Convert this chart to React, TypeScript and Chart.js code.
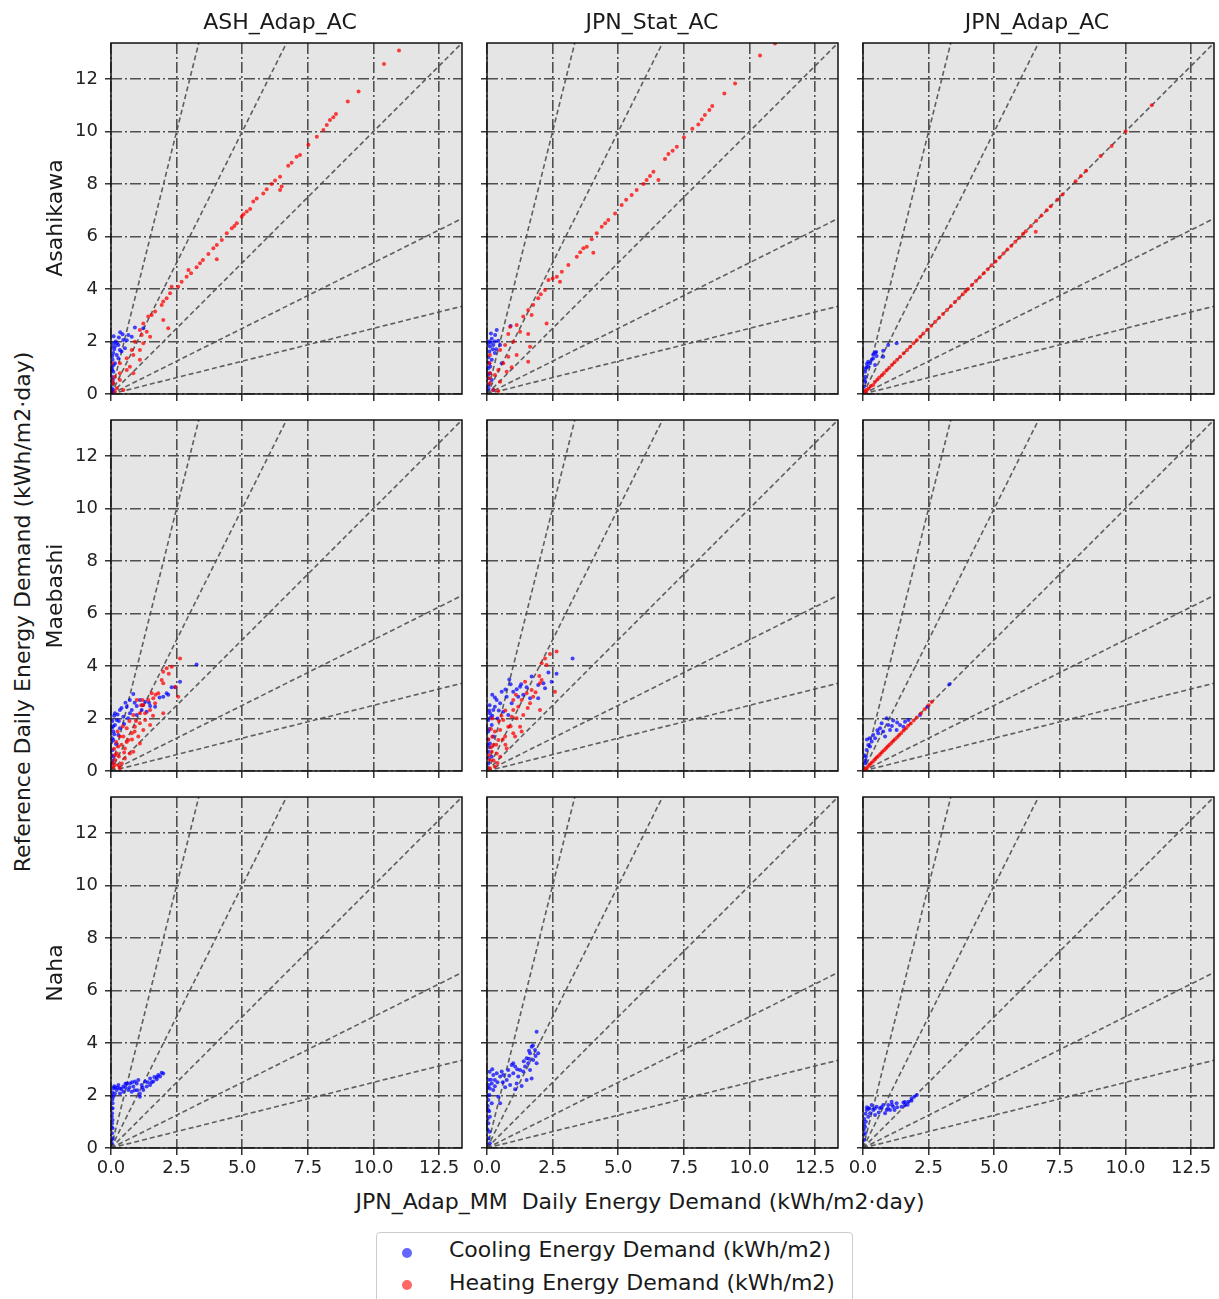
import React, { useEffect, useRef } from 'react';
import Chart from 'chart.js/auto';

type Pt = [number, number];

const columnTitles = ['ASH_Adap_AC', 'JPN_Stat_AC', 'JPN_Adap_AC'];
const rowLabels = ['Asahikawa', 'Maebashi', 'Naha'];
const seriesNames = ['Cooling Energy Demand (kWh/m2)', 'Heating Energy Demand (kWh/m2)'];
const xAxisTitle = 'JPN_Adap_MM  Daily Energy Demand (kWh/m2·day)';
const yAxisTitle = 'Reference Daily Energy Demand (kWh/m2·day)';
const xTickValues = [0, 2.5, 5, 7.5, 10, 12.5];
const yTickValues = [0, 2, 4, 6, 8, 10, 12];
const axisMax = 13.37;
const ratioSlopes = [4, 2, 1, 0.5, 0.25];
const ratioLineEndX = 14;

// ---------- Asahikawa ----------
const asahikawaAshCool: Pt[] = [
  [0.44,2.28],[0.91,2.53],[1.23,2.5],[0.79,2.18],[0.47,2.06],[0.28,1.87],[0.15,1.81],[0.34,1.68],[0.09,1.56],[0.22,1.49],
  [0.06,1.3],[0.15,1.17],[0.03,1.04],[0.09,0.85],[0.03,0.66],[0.06,0.41],[0.03,0.22],[0.22,1.93],[0.53,1.74],[0.66,2.25],
  [0.4,1.62],[0.09,1.93],[0.28,1.36],[0.09,0.15],[0.12,1.7],[0.05,1.45],[0.18,2.0],[0.3,2.15],[0.04,0.95],[0.07,0.55],
  [0.02,1.8],[0.1,2.2],[0.35,2.35],[0.6,2.05],[0.02,0.9],[0.1,1.1],[0.05,0.05],
];
const asahikawaAshHeat: Pt[] = [
  [10.97,13.08],[10.4,12.57],[9.43,11.52],[9.02,11.14],[8.57,10.67],[8.47,10.54],[8.34,10.44],[8.22,10.25],[8.09,10.06],[7.84,9.8],
  [7.52,9.49],[7.2,9.1],[7.07,9.04],[6.88,8.81],[6.75,8.69],[6.44,8.28],[6.25,8.13],[6.12,8.0],[5.93,7.8],[5.8,7.64],
  [6.5,7.9],[6.44,7.77],[5.55,7.45],[5.42,7.33],[5.17,6.95],[4.98,6.75],[4.79,6.5],[4.6,6.31],[4.41,6.12],[4.22,5.87],
  [4.03,5.68],[3.9,5.55],[3.71,5.33],[4.03,5.13],[3.39,4.98],[3.26,4.83],[2.95,4.72],[2.88,4.47],[2.69,4.28],[2.56,4.09],
  [2.31,4.09],[2.25,3.84],[2.12,3.65],[1.99,3.52],[1.93,3.39],[1.68,3.14],[1.55,3.01],[1.42,2.95],[1.99,2.82],[1.23,2.69],
  [1.1,2.44],[1.36,2.37],[1.17,2.25],[1.49,2.18],[0.91,1.99],[1.23,1.93],[0.79,1.68],[1.1,1.68],[2.18,2.5],[0.85,1.49],
  [0.6,1.36],[1.1,1.3],[0.34,1.17],[0.72,1.04],[0.6,0.91],[0.34,0.79],[0.85,0.79],[0.15,0.66],[0.34,0.53],[0.09,0.41],
  [0.22,0.22],[0.15,0.09],[0.47,0.15],[0.03,0.53],[0.03,1.17],[5.3,7.05],[5.05,6.85],[4.7,6.4],[3.5,5.1],[3.05,4.6],
];
const asahikawaStatCool: Pt[] = [
  [0.37,2.44],[0.31,2.25],[0.18,2.1],[0.43,2.03],[0.24,1.87],[0.11,1.81],[0.5,1.87],[0.09,1.62],[0.3,1.56],[0.18,1.3],
  [0.09,1.17],[0.05,0.98],[0.11,0.79],[0.18,0.53],[0.05,0.34],[0.24,0.15],[0.56,1.17],[0.9,2.59],[0.05,1.4],[0.14,1.95],
  [0.04,0.6],[0.08,2.0],[0.22,1.7],[0.12,1.05],[0.06,0.2],[0.02,1.9],[0.02,1.2],[0.15,2.3],[0.35,1.7],[0.05,0.75],
  [0.3,2.0],
];
const asahikawaStatHeat: Pt[] = [
  [10.97,13.35],[10.4,12.89],[9.45,11.83],[9.04,11.45],[8.58,10.97],[8.47,10.82],[8.3,10.63],[8.18,10.46],[8.05,10.27],[7.82,10.1],
  [7.5,9.78],[7.23,9.42],[7.07,9.27],[6.91,9.14],[6.78,8.95],[6.34,8.47],[6.21,8.3],[6.53,8.15],[6.08,8.15],[5.96,8.0],
  [5.7,7.77],[5.51,7.58],[5.13,7.2],[4.88,6.88],[4.62,6.63],[4.37,6.37],[4.18,6.12],[3.99,5.89],[3.8,5.61],[3.67,5.55],
  [4.05,5.38],[3.42,5.23],[3.1,4.91],[2.85,4.66],[2.66,4.47],[2.78,4.28],[2.34,4.34],[2.21,3.96],[1.95,3.65],[1.76,3.39],
  [1.57,3.2],[1.38,2.95],[1.7,3.01],[2.27,2.69],[1.13,2.63],[0.88,2.56],[1.26,2.37],[1.57,2.29],[0.81,2.29],[1.0,1.99],
  [0.69,1.87],[1.64,1.8],[0.5,1.68],[1.13,1.49],[0.81,1.42],[1.57,1.23],[0.62,1.17],[0.94,1.02],[0.43,0.91],[0.75,0.85],
  [0.3,0.72],[0.11,0.79],[0.5,0.47],[0.11,0.41],[0.24,0.15],[0.43,0.11],[0.09,1.17],[0.11,1.49],[0.09,0.6],[5.3,7.4],
  [4.5,6.5],[3.55,5.4],[2.5,4.4],[2.05,3.8],
];
const asahikawaJpnCool: Pt[] = [
  [1.28,1.93],[0.96,1.87],[0.77,1.65],[0.77,1.42],[0.46,1.57],[0.39,1.36],[0.52,1.45],[0.27,1.17],[0.2,1.23],[0.46,1.1],
  [0.13,1.02],[0.08,0.85],[0.09,0.66],[0.08,0.47],[0.04,0.28],[0.33,1.3],[0.2,1.04],[0.39,1.5],[0.5,1.6],[0.1,0.95],
  [0.15,1.15],[0.06,0.55],
];
const asahikawaJpnHeat: Pt[] = [
  [0.05,0.04],[0.1,0.1],[0.15,0.16],[0.22,0.21],[0.3,0.3],[0.39,0.34],[0.45,0.46],[0.55,0.55],[0.62,0.63],[0.72,0.71],
  [0.8,0.8],[0.9,0.9],[1.0,1.0],[1.1,1.1],[1.2,1.21],[1.3,1.3],[1.42,1.42],[1.55,1.55],[1.68,1.68],[1.8,1.8],
  [1.92,1.93],[2.05,2.05],[2.18,2.18],[2.3,2.3],[2.45,2.45],[2.6,2.6],[2.75,2.75],[2.9,2.9],[3.05,3.05],[3.2,3.2],
  [3.35,3.35],[3.5,3.5],[3.65,3.65],[3.8,3.8],[3.9,3.9],[4.0,4.0],[4.15,4.15],[4.3,4.3],[4.45,4.45],[4.6,4.6],
  [4.75,4.75],[4.9,4.9],[5.05,5.05],[5.2,5.2],[5.35,5.35],[5.5,5.5],[5.65,5.65],[5.8,5.8],[5.95,5.95],[6.1,6.1],
  [6.2,6.2],[6.4,6.4],[6.6,6.6],[6.8,6.8],[7.0,7.0],[7.15,7.15],[7.4,7.4],[7.6,7.6],[8.1,8.1],[8.3,8.3],
  [8.5,8.5],[9.05,9.07],[9.47,9.45],[10.0,10.0],[11.0,11.0],[6.58,6.18],
];

// ---------- Maebashi ----------
const maebashiAshCool: Pt[] = [
  [3.26,4.06],[2.63,3.4],[2.44,3.19],[2.31,3.19],[1.99,2.83],[2.18,2.9],[0.85,2.93],[1.1,2.7],[1.3,2.64],[0.72,2.7],
  [0.98,2.48],[1.49,2.48],[0.6,2.45],[1.68,2.45],[0.34,2.32],[0.79,2.32],[1.17,2.32],[1.36,2.26],[0.47,2.07],[0.22,1.94],
  [0.65,2.01],[0.15,1.75],[0.34,1.63],[0.09,1.5],[0.28,1.37],[0.09,1.18],[0.19,1.03],[0.06,0.8],[0.1,0.54],[0.06,0.29],
  [0.72,2.2],[0.98,2.13],[0.5,1.79],[2.12,2.96],[0.05,1.9],[0.12,2.1],[0.04,1.25],[0.03,0.6],[0.25,2.15],[0.04,1.65],
  [0.02,1.1],[0.08,1.7],[0.15,2.2],[0.4,2.4],[0.55,2.6],[0.9,2.6],[1.2,2.5],[0.3,1.9],[0.02,0.4],[0.12,1.4],
  [1.45,2.6],[1.85,2.8],
];
const maebashiAshHeat: Pt[] = [
  [2.63,4.29],[2.31,3.97],[2.12,3.91],[1.99,3.78],[1.93,3.47],[1.99,3.34],[2.56,2.83],[1.55,2.96],[1.61,2.77],[1.8,2.96],
  [1.42,2.7],[1.68,2.58],[1.23,2.51],[1.49,2.32],[1.99,2.2],[1.1,2.2],[0.85,2.13],[1.3,1.94],[1.1,1.82],[1.49,1.75],
  [0.91,1.69],[0.6,1.63],[1.23,1.56],[0.79,1.44],[0.47,1.31],[1.04,1.31],[0.66,1.18],[0.34,1.31],[1.1,1.05],[0.28,0.93],
  [0.53,0.86],[0.85,0.73],[0.22,0.67],[0.53,0.48],[0.15,0.42],[0.72,0.67],[0.41,0.29],[0.15,0.23],[0.34,0.1],[0.09,0.15],
  [0.98,2.7],[0.4,1.0],[0.2,1.1],[0.12,0.85],[0.7,1.9],[1.15,2.5],[0.3,0.55],[0.05,0.3],[0.25,1.5],[0.45,1.7],
  [0.6,1.1],[0.8,1.2],[0.95,1.9],[1.3,2.2],[1.6,2.1],[1.7,2.9],[2.2,3.7],[2.45,3.2],[0.15,0.6],[0.3,0.2],
  [0.9,1.5],[1.2,2.7],[0.5,0.7],
];
const maebashiStatCool: Pt[] = [
  [3.26,4.29],[2.65,3.7],[2.34,3.75],[2.46,3.4],[2.15,3.34],[1.95,3.28],[2.21,3.15],[1.95,2.77],[1.51,3.19],[0.85,3.49],
  [1.26,3.21],[1.13,3.11],[1.0,3.02],[0.56,3.02],[0.75,2.83],[1.19,2.83],[1.38,2.9],[0.37,2.7],[0.5,2.58],[0.3,2.45],
  [0.24,2.32],[0.62,2.26],[0.11,2.2],[0.05,1.94],[0.18,1.75],[0.05,1.5],[0.24,1.31],[0.11,1.05],[0.05,0.73],[0.18,0.54],
  [0.05,0.29],[0.94,2.58],[0.81,2.13],[1.64,2.77],[0.15,2.05],[0.08,2.3],[0.2,2.1],[0.04,1.2],[0.1,0.9],[0.4,2.0],
  [0.02,2.0],[0.1,2.5],[0.3,2.8],[0.45,2.3],[0.7,3.1],[0.9,3.3],[1.7,3.6],[0.02,1.0],[0.08,1.6],[0.03,0.5],
  [0.2,2.9],[1.3,3.3],
];
const maebashiStatHeat: Pt[] = [
  [2.65,4.55],[2.4,4.46],[2.21,4.29],[2.08,4.1],[2.27,4.04],[1.99,3.62],[2.08,3.47],[2.02,3.34],[2.59,3.02],[1.7,3.09],
  [1.51,2.96],[1.76,2.83],[1.32,2.7],[1.64,2.58],[1.0,2.7],[1.19,2.45],[2.02,2.32],[1.38,2.13],[1.0,2.32],[0.94,2.07],
  [1.13,2.01],[0.62,1.94],[1.26,1.69],[0.81,1.69],[0.5,1.56],[1.0,1.44],[0.69,1.31],[1.32,1.5],[0.3,1.5],[0.43,1.18],
  [1.07,1.31],[0.24,0.99],[0.75,0.86],[0.18,0.73],[0.5,0.54],[0.11,0.42],[0.3,0.17],[0.11,0.1],[0.37,0.67],[0.05,1.2],
  [0.08,0.6],[0.2,1.3],[0.55,2.1],[0.4,0.3],[0.15,0.9],[0.7,1.0],[0.2,2.0],[0.35,1.0],[0.6,1.2],[0.9,1.7],
  [1.1,2.9],[1.45,3.4],[1.85,3.0],[0.7,2.3],[0.25,0.4],[0.45,1.9],[1.55,2.4],[0.15,1.6],
];
const maebashiJpnCool: Pt[] = [
  [3.29,3.3],[2.45,2.45],[2.17,2.13],[1.73,1.94],[1.6,1.88],[1.41,1.75],[1.15,1.92],[0.96,1.75],[0.71,1.82],[1.28,1.56],
  [1.03,1.56],[0.77,1.5],[0.58,1.44],[0.46,1.25],[0.33,1.12],[0.27,0.93],[0.14,0.8],[0.11,0.54],[0.08,0.29],[0.2,0.99],
  [0.39,1.37],[0.84,1.31],[1.54,1.69],[1.1,1.71],[0.65,1.63],[0.9,2.01],[0.05,0.6],[0.15,1.2],[0.55,1.55],[1.3,1.85],
  [0.25,1.25],[0.1,0.4],
];
const maebashiJpnHeat: Pt[] = [
  [0.03,0.02],[0.08,0.07],[0.14,0.1],[0.2,0.18],[0.26,0.25],[0.33,0.31],[0.4,0.38],[0.46,0.45],[0.53,0.52],[0.6,0.58],
  [0.66,0.65],[0.73,0.72],[0.8,0.79],[0.87,0.86],[0.94,0.93],[1.01,1.0],[1.08,1.07],[1.15,1.14],[1.22,1.21],[1.3,1.29],
  [1.38,1.37],[1.46,1.45],[1.55,1.54],[1.64,1.63],[1.72,1.72],[1.82,1.81],[1.93,1.92],[2.05,2.04],[2.2,2.19],[2.35,2.35],
  [2.5,2.5],[2.62,2.64],
];

// ---------- Naha ----------
const nahaAshCool: Pt[] = [
  [1.99,2.84],[1.87,2.72],[1.74,2.62],[1.61,2.53],[1.49,2.4],[1.36,2.34],[1.23,2.21],[1.1,2.08],[1.17,2.4],[0.98,2.46],
  [0.85,2.34],[0.79,2.14],[0.66,2.21],[0.6,2.46],[0.47,2.34],[0.34,2.27],[0.22,2.21],[0.15,2.08],[0.09,1.95],[0.06,1.7],
  [0.04,1.32],[0.04,0.94],[0.04,0.56],[0.03,0.18],[0.09,2.27],[0.72,2.46],[1.04,2.59],[0.91,2.53],[1.3,2.53],[1.49,2.65],
  [1.8,2.78],[1.93,2.87],[0.34,2.08],[0.47,2.14],[0.06,1.07],[0.06,1.51],[0.06,0.75],[0.06,0.37],[1.1,1.95],[0.28,2.4],
  [0.55,2.3],[0.12,2.35],[1.65,2.7],[1.4,2.5],[0.02,2.0],[0.05,1.85],[0.03,1.2],[0.9,2.2],[0.25,2.3],[0.4,2.25],
  [0.55,2.45],[0.7,2.3],[0.8,2.5],[1.0,2.2],[1.2,2.3],[1.55,2.5],[1.75,2.7],[0.02,1.5],[0.02,0.8],[0.02,0.3],
  [0.05,2.1],[0.15,2.3],
];
const nahaStatCool: Pt[] = [
  [1.89,4.43],[1.7,3.86],[1.83,3.73],[1.64,3.61],[1.95,3.61],[1.51,3.42],[1.76,3.35],[1.57,3.23],[1.89,3.23],[1.45,3.1],
  [1.64,2.97],[1.38,2.91],[1.7,2.65],[1.51,2.59],[1.32,2.36],[1.07,3.1],[0.94,3.16],[1.0,2.85],[0.81,2.97],[1.19,2.72],
  [0.75,2.59],[0.88,2.4],[1.07,2.24],[0.69,2.31],[0.56,2.91],[0.5,2.72],[0.37,2.85],[0.24,2.78],[0.3,2.59],[0.18,2.46],
  [0.11,2.27],[0.24,2.21],[0.09,2.02],[0.05,1.83],[0.18,1.7],[0.05,1.45],[0.11,1.19],[0.05,0.94],[0.09,0.62],[0.05,0.37],
  [0.11,0.18],[0.5,1.7],[0.43,1.95],[1.13,2.46],[1.26,2.97],[0.62,2.78],[1.0,3.23],[0.15,2.6],[0.07,2.4],[0.3,2.35],
  [1.85,3.5],[1.6,3.4],[0.03,1.6],[0.02,1.1],[0.02,2.3],[0.05,2.6],[0.1,2.9],[0.2,3.0],[0.4,2.5],[0.6,2.5],
  [0.85,2.75],[1.15,3.0],[1.4,3.3],[1.75,3.9],[1.6,3.7],[0.03,2.0],[0.02,0.7],[0.08,1.4],
];
const nahaJpnCool: Pt[] = [
  [2.05,2.02],[1.85,1.89],[1.73,1.76],[1.6,1.64],[1.47,1.57],[1.09,1.76],[1.15,1.57],[0.96,1.64],[1.03,1.45],[0.77,1.64],
  [0.84,1.32],[0.65,1.51],[0.52,1.57],[0.39,1.45],[0.27,1.32],[0.46,1.26],[0.2,1.19],[0.11,1.0],[0.08,0.81],[0.08,0.56],
  [0.04,0.3],[1.28,1.7],[1.54,1.73],[0.9,1.45],[0.33,1.64],[0.14,1.45],[1.95,1.95],[1.7,1.65],[0.6,1.35],[0.05,1.1],
  [0.03,0.7],[0.2,1.5],[1.2,1.45],[0.1,1.3],[0.25,1.5],[0.45,1.5],[0.7,1.55],[0.95,1.5],[1.3,1.55],[1.6,1.75],
  [1.85,1.8],[0.03,0.9],[0.02,0.5],[0.15,1.55],[1.1,1.65],
];
const nahaNoHeat: Pt[] = [];

// [row][col] -> [cooling, heating]
const panelSeries: [Pt[], Pt[]][][] = [
  [[asahikawaAshCool, asahikawaAshHeat], [asahikawaStatCool, asahikawaStatHeat], [asahikawaJpnCool, asahikawaJpnHeat]],
  [[maebashiAshCool, maebashiAshHeat], [maebashiStatCool, maebashiStatHeat], [maebashiJpnCool, maebashiJpnHeat]],
  [[nahaAshCool, nahaNoHeat], [nahaStatCool, nahaNoHeat], [nahaJpnCool, nahaNoHeat]],
];

// ---------- layout / style ----------
const FONT = "'DejaVu Sans', sans-serif";
const panelLefts = [111, 487, 863];
const panelTops = [43, 420, 797];
const panelSize = 351;
const padLeft = 50;
const padTop = 24;
const padRight = 8;
const padBottom = 35;
const coolColor = 'rgba(0,0,255,0.72)';
const heatColor = 'rgba(255,0,0,0.75)';
const gridColor = '#505050';
const gridDash = [11, 3, 2, 3];
const pointR = 2;

const panelFramePlugin = {
  id: 'panelFrame',
  beforeDraw(chart: any) {
    const { ctx, chartArea } = chart;
    ctx.save();
    ctx.fillStyle = '#e5e5e5';
    ctx.fillRect(chartArea.left, chartArea.top, chartArea.right - chartArea.left, chartArea.bottom - chartArea.top);
    ctx.restore();
  },
  afterDraw(chart: any) {
    const { ctx, chartArea } = chart;
    ctx.save();
    ctx.strokeStyle = '#111111';
    ctx.lineWidth = 1.5;
    ctx.setLineDash([]);
    ctx.strokeRect(chartArea.left, chartArea.top, chartArea.right - chartArea.left, chartArea.bottom - chartArea.top);
    ctx.restore();
  },
};

function Panel({ row, col }: { row: number; col: number }) {
  const ref = useRef<HTMLCanvasElement>(null);
  const w = padLeft + panelSize + padRight;
  const h = padTop + panelSize + padBottom;
  useEffect(() => {
    if (!ref.current) return;
    const [cool, heat] = panelSeries[row][col];
    const datasets: any[] = [
      {
        type: 'scatter',
        label: seriesNames[1],
        data: heat.map(([x, y]) => ({ x, y })),
        backgroundColor: heatColor,
        pointRadius: pointR,
        pointBorderWidth: 0,
        order: 0,
      },
      {
        type: 'scatter',
        label: seriesNames[0],
        data: cool.map(([x, y]) => ({ x, y })),
        backgroundColor: coolColor,
        pointRadius: pointR,
        pointBorderWidth: 0,
        order: 1,
      },
      ...ratioSlopes.map((s) => ({
        type: 'line',
        label: 'ratio ' + s,
        data: [{ x: 0, y: 0 }, { x: ratioLineEndX, y: ratioLineEndX * s }],
        borderColor: 'rgba(80,80,80,0.9)',
        borderWidth: 1.6,
        borderDash: [5, 3],
        pointRadius: 0,
        fill: false,
        order: 2,
      })),
    ];
    const chart = new Chart(ref.current, {
      type: 'scatter',
      data: { datasets },
      options: {
        responsive: false,
        animation: false,
        devicePixelRatio: 1,
        events: [],
        layout: { padding: { top: padTop, right: padRight, left: 0, bottom: 0 } },
        plugins: { legend: { display: false }, tooltip: { enabled: false } },
        scales: {
          x: {
            type: 'linear',
            min: 0,
            max: axisMax,
            afterBuildTicks: (s: any) => { s.ticks = xTickValues.map((v) => ({ value: v })); },
            afterFit: (s: any) => { s.height = padBottom; },
            ticks: {
              display: row === 2,
              font: { size: 18, family: FONT },
              color: '#222',
              padding: 3,
              maxRotation: 0,
              autoSkip: false,
              callback: (v: any) => Number(v).toFixed(1),
            },
            grid: { color: gridColor, lineWidth: 1.6, drawTicks: true, tickLength: 7, tickColor: '#111', tickWidth: 1.3 },
            border: { display: false, dash: gridDash },
          },
          y: {
            type: 'linear',
            min: 0,
            max: axisMax,
            afterBuildTicks: (s: any) => { s.ticks = yTickValues.map((v) => ({ value: v })); },
            afterFit: (s: any) => { s.width = padLeft; },
            ticks: {
              display: col === 0,
              font: { size: 18, family: FONT },
              color: '#222',
              padding: 7,
              autoSkip: false,
              callback: (v: any) => String(v),
            },
            grid: { color: gridColor, lineWidth: 1.6, drawTicks: true, tickLength: 6, tickColor: '#111', tickWidth: 1.3 },
            border: { display: false, dash: gridDash },
          },
        },
      } as any,
      plugins: [panelFramePlugin],
    });
    return () => chart.destroy();
  }, [row, col]);
  return (
    <canvas
      ref={ref}
      width={w}
      height={h}
      style={{ position: 'absolute', left: panelLefts[col] - padLeft, top: panelTops[row] - padTop, width: w, height: h }}
    />
  );
}

const textBase: React.CSSProperties = {
  position: 'absolute',
  fontFamily: FONT,
  fontSize: 22,
  lineHeight: '22px',
  color: '#1a1a1a',
  whiteSpace: 'pre',
};

function HText({ text, cx, baseline }: { text: string; cx: number; baseline: number }) {
  return <div style={{ ...textBase, left: cx, top: baseline - 18.6, transform: 'translateX(-50%)' }}>{text}</div>;
}

function VText({ text, cx, cy }: { text: string; cx: number; cy: number }) {
  return (
    <div style={{ ...textBase, left: cx, top: cy, transform: 'translate(-50%,-50%) rotate(-90deg)' }}>{text}</div>
  );
}

const titleCenters = [280, 652, 1037];
const rowCenters = [218, 596, 973];

export default function App() {
  const panels: React.ReactNode[] = [];
  for (let r = 0; r < 3; r++) {
    for (let c = 0; c < 3; c++) {
      panels.push(<Panel key={r + '-' + c} row={r} col={c} />);
    }
  }
  return (
    <div style={{ position: 'absolute', left: 0, top: 0, width: 1219, height: 1299, background: '#fff', overflow: 'hidden' }}>
      {panels}
      {columnTitles.map((t, i) => (
        <HText key={t} text={t} cx={titleCenters[i]} baseline={30} />
      ))}
      {rowLabels.map((t, i) => (
        <VText key={t} text={t} cx={55} cy={rowCenters[i]} />
      ))}
      <VText text={yAxisTitle} cx={22.5} cy={612} />
      <HText text={xAxisTitle} cx={640} baseline={1210} />
      <div
        style={{
          position: 'absolute',
          left: 376,
          top: 1232,
          width: 475,
          height: 90,
          border: '1px solid #cccccc',
          borderRadius: 4,
          background: '#fff',
        }}
      />
      <div style={{ position: 'absolute', left: 402, top: 1248, width: 10, height: 10, borderRadius: 5, background: 'rgba(0,0,255,0.6)' }} />
      <div style={{ position: 'absolute', left: 402, top: 1280, width: 10, height: 10, borderRadius: 5, background: 'rgba(255,0,0,0.6)' }} />
      <div style={{ ...textBase, left: 449, top: 1258 - 18.6 }}>{seriesNames[0]}</div>
      <div style={{ ...textBase, left: 449, top: 1291 - 18.6 }}>{seriesNames[1]}</div>
    </div>
  );
}
